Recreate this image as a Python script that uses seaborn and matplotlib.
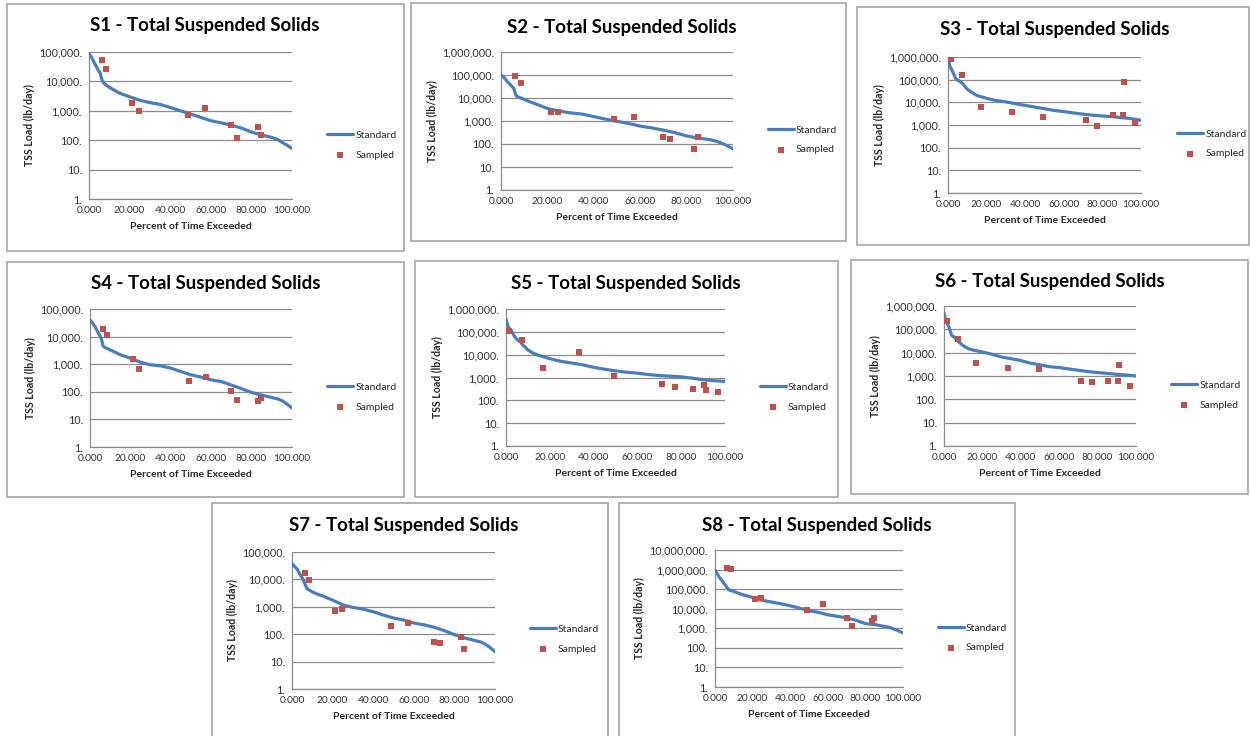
import matplotlib
matplotlib.use("Agg")
import matplotlib.pyplot as plt
import numpy as np
import pandas as pd
import seaborn as sns
from matplotlib.patches import Rectangle
from matplotlib.ticker import FuncFormatter, FixedLocator, NullLocator

W, H = 1250, 736

# percent of time exceeded used for every standard (duration) curve
std_pct = [0, 1, 2.5, 4, 5.5, 6.5, 7.5, 10, 12.5, 15, 20, 25, 30, 35, 40, 45,
           50, 55, 60, 65, 70, 75, 80, 85, 90, 93, 95, 97.5, 100]

# standard curve loads (lb/day), one list per station
s1_std = [88000, 70000, 45000, 28000, 19000, 10500, 8500, 6300, 5000, 4000, 3000, 2300, 1900, 1650, 1300, 1000,
          780, 600, 460, 390, 330, 260, 190, 150, 125, 105, 85, 68, 52]
s2_std = [100000, 85000, 55000, 38000, 26000, 12500, 11000, 8700, 6800, 5500, 3500, 2700, 2250, 2000, 1550, 1200,
          970, 780, 600, 500, 400, 310, 225, 180, 155, 130, 110, 85, 62]
s3_std = [900000, 380000, 220000, 110000, 90000, 80000, 68000, 38000, 27000, 20000, 15000, 12000, 10500, 8700, 7300, 6200,
          5200, 4400, 3900, 3400, 3000, 2700, 2500, 2350, 2100, 2000, 1900, 1750, 1600]
s4_std = [40000, 33000, 23000, 14000, 9000, 4500, 4000, 3300, 2700, 2200, 1650, 1180, 950, 870, 720, 540,
          410, 340, 270, 235, 175, 130, 95, 76, 62, 55, 48, 36, 26]
s5_std = [350000, 165000, 110000, 60000, 42000, 37000, 28000, 16000, 11500, 9300, 6700, 5100, 4300, 3600, 2800, 2300,
          1950, 1700, 1550, 1350, 1220, 1140, 1070, 940, 800, 750, 720, 700, 670]
s6_std = [500000, 230000, 130000, 55000, 46000, 36000, 30000, 20000, 15000, 13000, 10700, 8500, 6500, 5500, 4600, 3550,
          3000, 2500, 2300, 2000, 1760, 1550, 1400, 1300, 1180, 1130, 1100, 1050, 1000]
s7_std = [38000, 31000, 24000, 15000, 10000, 6500, 4500, 3500, 2900, 2500, 1750, 1180, 950, 820, 660, 500,
          390, 330, 255, 220, 180, 135, 97, 73, 59, 52, 44, 33, 23]
s8_std = [950000, 650000, 380000, 250000, 160000, 115000, 90000, 76000, 62000, 51000, 38000, 27000, 22000, 18000, 14000, 10800,
          7900, 6500, 4900, 4100, 3400, 2560, 1730, 1540, 1250, 1100, 920, 750, 580]

# sampling events (percent of time exceeded)
smp_pct_a = [6.2, 8.5, 21.4, 24.4, 48.8, 57.2, 70.0, 72.8, 83.4, 84.7]
smp_pct_b = [1.4, 7.4, 16.9, 33.3, 49.4, 71.3, 77.1, 85.5, 90.6, 91.4, 97.0]

# sampled loads (lb/day)
s1_smp = [52000, 27000, 1900, 1000, 700, 1200, 330, 123, 290, 150]
s2_smp = [90000, 46000, 2500, 2500, 1260, 1500, 200, 170, 63, 200]
s3_smp = [800000, 160000, 6400, 3700, 2330, 1660, 900, 2850, 2850, 82000, 1180]
s4_smp = [19000, 11000, 1520, 680, 240, 350, 109, 50, 46, 60]
s5_smp = [107000, 45000, 2550, 12600, 1140, 510, 370, 320, 480, 270, 240]
s6_smp = [230000, 40000, 3700, 2150, 1950, 600, 530, 630, 600, 3100, 355]
s7_smp = [17000, 9200, 715, 820, 195, 250, 53, 47, 82, 28]
s8_smp = [1170000, 1040000, 32000, 34000, 8900, 17300, 3400, 1370, 2280, 3400]

stations = ["S1", "S2", "S3", "S4", "S5", "S6", "S7", "S8"]
std_loads = [s1_std, s2_std, s3_std, s4_std, s5_std, s6_std, s7_std, s8_std]
smp_pcts = [smp_pct_a, smp_pct_a, smp_pct_b, smp_pct_a, smp_pct_b, smp_pct_b, smp_pct_a, smp_pct_a]
smp_loads = [s1_smp, s2_smp, s3_smp, s4_smp, s5_smp, s6_smp, s7_smp, s8_smp]
y_decades = [5, 6, 6, 5, 6, 6, 5, 7]

# layout in pixels: chart box, plot area, title centre, legend anchor
boxes = [(7, 4, 404, 251), (411, 3, 846, 241), (857, 7, 1249, 245),
         (7, 262, 404, 497), (415, 261, 838, 497), (851, 260, 1248, 494),
         (212, 503, 608, 745), (619, 503, 1015, 745)]
plot_areas = [(89, 52, 292, 199), (501, 52, 733, 190), (948, 57, 1141, 193),
              (90, 309, 292, 447), (506, 309, 725, 446), (944, 306, 1136, 446),
              (292, 552, 495, 689), (715, 550, 903, 687)]
title_pos = [(205, 26), (622, 27), (1055, 30), (206, 283), (626, 283), (1050, 281), (404, 525), (817, 525)]
legend_pos = [(327, 145), (768, 140), (1177, 144), (327, 397), (760, 397), (1171, 395), (530, 639), (938, 638)]

LINE_BLUE = "#4A7EBB"
MARK_RED = "#C0504D"
GRID = "#8C8C8C"

sns.set_style("white")
plt.rcParams["font.family"] = ["Lato", "DejaVu Sans"]


def fx(x):
    return x / W


def fy(y):
    return 1 - y / H


fig = plt.figure(figsize=(W / 100, H / 100), dpi=100)

for i, name in enumerate(stations):
    # chart frame, like an embedded spreadsheet chart
    bx0, by0, bx1, by1 = boxes[i]
    fig.add_artist(Rectangle((fx(bx0), fy(by1)), fx(bx1 - bx0), (by1 - by0) / H,
                             transform=fig.transFigure, fill=False,
                             edgecolor="#A6A6A6", lw=1.2, zorder=0))

    x0, y0, x1, y1 = plot_areas[i]
    ax = fig.add_axes([fx(x0), fy(y1), fx(x1 - x0), (y1 - y0) / H])

    std_df = pd.DataFrame({"pct": std_pct, "load": std_loads[i]})
    smp_df = pd.DataFrame({"pct": smp_pcts[i], "load": smp_loads[i]})

    sns.lineplot(data=std_df, x="pct", y="load", ax=ax, color=LINE_BLUE,
                 lw=2.3, label="Standard", zorder=3)
    sns.scatterplot(data=smp_df, x="pct", y="load", ax=ax, color=MARK_RED,
                    marker="s", s=22, linewidth=0, label="Sampled", zorder=4)

    ax.set_yscale("log")
    top = y_decades[i]
    ax.set_ylim(1, 10 ** top)
    ax.set_xlim(0, 100)
    ax.yaxis.set_major_locator(FixedLocator([10 ** k for k in range(top + 1)]))
    ax.yaxis.set_minor_locator(NullLocator())
    ax.xaxis.set_major_locator(FixedLocator([0, 20, 40, 60, 80, 100]))
    ax.yaxis.set_major_formatter(FuncFormatter(lambda v, p: f"{v:,.0f}."))
    ax.xaxis.set_major_formatter(FuncFormatter(lambda v, p: f"{v:.3f}"))

    ax.grid(axis="y", color=GRID, lw=0.9)
    ax.set_axisbelow(True)
    for side in ["top", "right"]:
        ax.spines[side].set_visible(False)
    for side in ["left", "bottom"]:
        ax.spines[side].set_color(GRID)
        ax.spines[side].set_linewidth(0.9)
    ax.tick_params(axis="both", which="major", direction="out", length=3,
                   width=0.8, color=GRID, labelcolor="#333333", pad=2)
    ax.tick_params(axis="x", labelsize=7.3)
    ax.tick_params(axis="y", labelsize=7.8)

    ax.set_xlabel("Percent of Time Exceeded", fontsize=7.5, fontweight="bold", labelpad=5)
    ax.set_ylabel("TSS Load (lb/day)", fontsize=7.6, fontweight="bold", labelpad=3)

    handles, labels = ax.get_legend_handles_labels()
    ax.get_legend().remove()
    lx, ly = legend_pos[i]
    fig.legend(handles, labels, loc="center left", bbox_to_anchor=(fx(lx), fy(ly)),
               frameon=False, fontsize=7.5, handlelength=2.5, handletextpad=0.2,
               labelspacing=1.0, borderpad=0, borderaxespad=0)

    tx, ty = title_pos[i]
    fig.text(fx(tx), fy(ty), f"{name} - Total Suspended Solids", ha="center",
             va="center", fontsize=13.4, fontweight="bold", color="#000000")

fig.savefig("out.png", dpi=100)
